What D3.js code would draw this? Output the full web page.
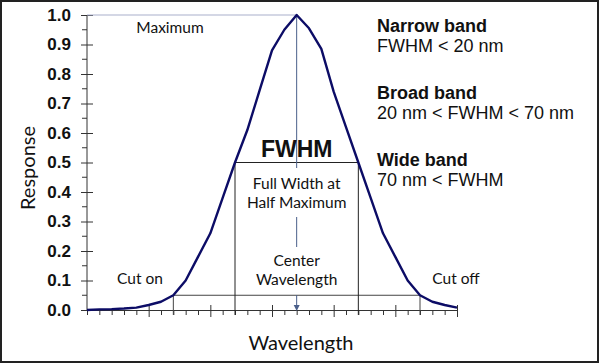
<!DOCTYPE html>
<html><head><meta charset="utf-8">
<script src="https://cdn.jsdelivr.net/npm/d3@7"></script>
<style>body{margin:0;background:#fff}svg{display:block}</style>
</head><body>
<svg id="c" width="600" height="364"></svg>
<script>
// Wavelength index (tick units) and response values
const wavelengths = d3.range(0, 31);
const response = [0, 0.002, 0.003, 0.005, 0.008, 0.017, 0.028, 0.05, 0.1, 0.18, 0.26, 0.38, 0.5,
  0.61, 0.745, 0.88, 0.95, 1.0, 0.955, 0.885, 0.74, 0.62, 0.5, 0.38, 0.26, 0.18, 0.1, 0.05, 0.028, 0.017, 0.008];
const yTicks = [0, 0.1, 0.2, 0.3, 0.4, 0.5, 0.6, 0.7, 0.8, 0.9, 1.0];
const cutOn = 7, cutOff = 27, fwhmLeft = 12, fwhmRight = 22, center = 17;
const cutLevel = 0.05, halfMax = 0.5, maxVal = 1.0;
const bands = [
  {title: "Narrow band", rule: "FWHM < 20 nm"},
  {title: "Broad band", rule: "20 nm < FWHM < 70 nm"},
  {title: "Wide band", rule: "70 nm < FWHM"}
];

const svg = d3.select("#c");
const x = d3.scaleLinear().domain([0, 30]).range([87, 457]);
const y = d3.scaleLinear().domain([0, 1]).range([310, 15]);
const axisCol = "#333";
const calibri = "Lato, 'Open Sans', sans-serif";

// border
svg.append("rect").attr("x", 1).attr("y", 1).attr("width", 597).attr("height", 361)
  .attr("fill", "none").attr("stroke", "#222").attr("stroke-width", 2);

// y axis
const yAxis = d3.axisLeft(y).tickValues(yTicks).tickFormat(d3.format(".1f")).tickSize(6).tickPadding(10);
const gy = svg.append("g").attr("transform", `translate(${x(0)},0)`).call(yAxis);
gy.select(".domain").attr("stroke", axisCol).attr("d", `M0,${y(1)}V${y(0)}`);
gy.selectAll(".tick line").attr("stroke", axisCol).attr("x1", 6);
gy.selectAll(".tick text").attr("font-family", "'Liberation Sans', Arial, sans-serif")
  .attr("font-weight", "bold").attr("font-size", 17).attr("fill", "#111");
// y minor ticks
const yMinor = d3.range(0.05, 1, 0.1);
svg.append("g").selectAll("line").data(yMinor).join("line")
  .attr("x1", x(0) - 5).attr("x2", x(0)).attr("y1", d => y(d)).attr("y2", d => y(d))
  .attr("stroke", axisCol);

// x axis
const gx = svg.append("g").attr("transform", `translate(0,${y(0)})`)
  .call(d3.axisBottom(x).tickValues(wavelengths).tickFormat("").tickSizeOuter(0).tickSize(5));
gx.select(".domain").attr("stroke", axisCol);
gx.selectAll(".tick line").attr("stroke", axisCol)
  .attr("y1", d => (d % 5 === 0 && d > 0) ? -5 : 0)
  .attr("y2", d => (d % 5 === 0 && d > 0) ? 7 : 5);

// cut on / cut off lines
const lc = "#444";
svg.append("line").attr("x1", x(cutOn)).attr("x2", x(cutOff)).attr("y1", y(cutLevel)).attr("y2", y(cutLevel)).attr("stroke", lc);
[cutOn, cutOff].forEach(v => svg.append("line").attr("x1", x(v)).attr("x2", x(v)).attr("y1", y(0) + 5).attr("y2", y(cutLevel)).attr("stroke", lc));
// FWHM box
svg.append("line").attr("x1", x(fwhmLeft)).attr("x2", x(fwhmRight)).attr("y1", y(halfMax)).attr("y2", y(halfMax)).attr("stroke", "#222");
[fwhmLeft, fwhmRight].forEach(v => svg.append("line").attr("x1", x(v)).attr("x2", x(v)).attr("y1", y(0) + 5).attr("y2", y(halfMax)).attr("stroke", "#222"));

// max line
svg.append("line").attr("x1", x(0)).attr("x2", x(center)).attr("y1", y(maxVal)).attr("y2", y(maxVal))
  .attr("stroke", "#a9b0cc").attr("stroke-width", 1.2);
// center line segments
const cc = "#4a5f8a";
svg.append("line").attr("x1", x(center)).attr("x2", x(center)).attr("y1", y(maxVal)).attr("y2", 168).attr("stroke", cc);
svg.append("line").attr("x1", x(center)).attr("x2", x(center)).attr("y1", 217).attr("y2", 247).attr("stroke", cc);
svg.append("line").attr("x1", x(center)).attr("x2", x(center)).attr("y1", 295).attr("y2", 306).attr("stroke", cc);
svg.append("path").attr("d", `M${x(center) - 3},${305}L${x(center) + 3},${305}L${x(center)},${311}Z`).attr("fill", cc);

// curve
svg.append("path").datum(wavelengths)
  .attr("d", d3.line().x(d => x(d)).y(d => y(response[d])))
  .attr("fill", "none").attr("stroke", "#0c0c66").attr("stroke-width", 2.4).attr("stroke-linejoin", "round");

// labels
function txt(t, xx, yy, size, opts = {}) {
  return svg.append("text").attr("x", xx).attr("y", yy).text(t)
    .attr("font-family", opts.family || calibri).attr("font-size", size)
    .attr("font-weight", opts.weight || "normal").attr("text-anchor", opts.anchor || "start")
    .attr("fill", "#111");
}
txt("Maximum", 170, 33, 15.5, {anchor: "middle"});
txt("FWHM", x(center), 157, 23, {anchor: "middle", weight: "bold", family: "'Liberation Sans', Arial, sans-serif"});
txt("Full Width at", x(center), 189, 15.5, {anchor: "middle"});
txt("Half Maximum", x(center), 208, 15.5, {anchor: "middle"});
txt("Center", x(center), 266, 15.5, {anchor: "middle"});
txt("Wavelength", x(center), 285, 15.5, {anchor: "middle"});
txt("Cut on", 140, 284, 15.5, {anchor: "middle"});
txt("Cut off", 456, 284, 15.5, {anchor: "middle"});
txt("Wavelength", 301, 350, 20, {anchor: "middle"});
txt("Response", 0, 0, 20, {anchor: "middle"}).attr("transform", "translate(35,168) rotate(-90)");

bands.forEach((b, i) => {
  txt(b.title, 377, 32 + i * 67, 18, {weight: "bold", family: "'Liberation Sans', Arial, sans-serif"});
  txt(b.rule, 377, 52 + i * 67, 18, {family: "'Liberation Sans', Arial, sans-serif"});
});
</script>
</body></html>
